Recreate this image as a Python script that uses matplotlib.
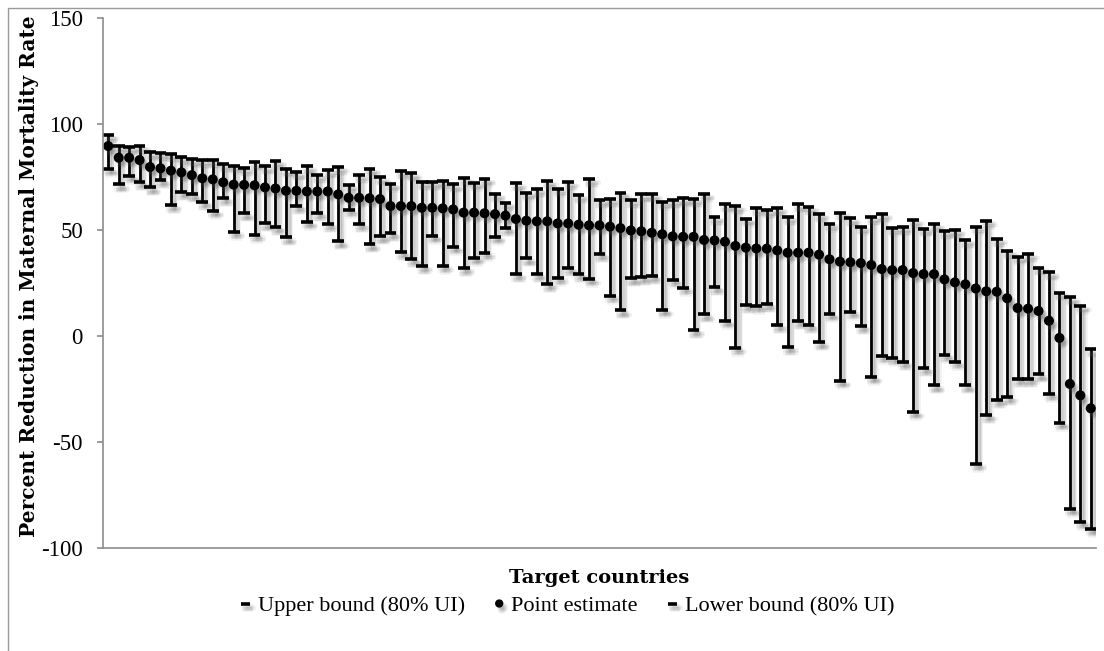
import numpy as np
import matplotlib
matplotlib.use("Agg")
import matplotlib.pyplot as plt
import matplotlib.patheffects as pe
from matplotlib.patches import Rectangle

# percent reduction per country, sorted by point estimate
point = [89.6, 84.1, 84.1, 83.0, 79.7, 79.1, 78.0, 77.2, 75.9, 74.4,
         73.9, 72.5, 71.4, 71.3, 71.1, 70.1, 69.6, 68.5, 68.5, 68.2,
         68.2, 68.2, 66.8, 65.2, 65.2, 65.0, 64.6, 61.3, 61.3, 61.3,
         60.5, 60.5, 60.2, 59.7, 58.2, 58.2, 57.9, 57.5, 56.8, 55.2,
         54.4, 54.1, 54.1, 53.1, 53.1, 52.5, 52.2, 52.2, 51.6, 50.9,
         49.8, 49.4, 48.7, 48.0, 47.0, 46.8, 46.8, 45.3, 45.1, 44.5,
         42.5, 41.7, 41.3, 41.2, 40.4, 39.3, 39.3, 39.3, 38.4, 36.2,
         35.1, 34.8, 34.4, 33.5, 31.6, 31.1, 31.1, 29.7, 29.2, 29.2,
         26.7, 25.3, 24.4, 22.4, 21.1, 20.9, 17.8, 13.2, 12.9, 11.8,
         7.2, -0.9, -22.6, -28.0, -34.1]

upper = [94.8, 89.6, 89.0, 89.6, 86.6, 86.2, 85.7, 84.3, 83.3, 82.9,
         82.9, 81.1, 80.3, 79.1, 81.9, 80.0, 82.5, 78.6, 77.2, 80.0,
         75.9, 78.1, 79.6, 71.2, 75.9, 78.8, 74.8, 71.8, 77.8, 76.7,
         72.5, 72.5, 73.1, 71.5, 74.5, 72.2, 74.1, 67.0, 62.7, 72.0,
         67.5, 69.2, 73.1, 69.5, 72.5, 66.4, 73.9, 64.0, 64.6, 67.6,
         64.0, 66.8, 66.8, 63.4, 64.0, 64.9, 64.6, 67.1, 56.0, 62.1,
         61.3, 55.3, 60.4, 59.4, 60.4, 56.1, 62.1, 60.7, 57.4, 53.0,
         58.2, 55.5, 51.6, 56.1, 57.4, 51.1, 51.3, 54.7, 50.7, 52.7,
         49.5, 50.0, 45.3, 51.6, 54.4, 45.6, 40.1, 37.3, 38.7, 32.3,
         30.0, 20.5, 18.2, 14.2, -6.3]

lower = [78.9, 71.5, 75.5, 72.5, 70.1, 73.6, 61.8, 67.8, 66.8, 63.2,
         59.0, 65.1, 49.2, 57.8, 47.8, 53.1, 51.4, 46.5, 61.3, 53.8,
         58.0, 52.8, 44.6, 59.6, 52.8, 43.2, 47.0, 48.6, 39.6, 36.2,
         33.0, 47.3, 33.2, 42.1, 32.1, 36.9, 39.3, 46.8, 50.9, 29.1,
         36.6, 29.1, 24.5, 27.5, 32.1, 29.1, 27.0, 38.7, 19.0, 12.1,
         27.2, 27.7, 28.2, 12.3, 26.6, 22.8, 2.7, 10.2, 23.1, 7.2,
         -5.5, 14.6, 14.3, 15.1, 5.2, -5.2, 7.1, 5.2, -3.0, 10.5,
         -21.1, 11.5, 4.6, -19.3, -9.3, -10.2, -12.4, -35.8, -15.1, -23.3,
         -8.8, -12.1, -23.3, -60.2, -37.4, -30.2, -28.9, -20.4, -20.4, -18.1,
         -27.2, -41.0, -81.5, -87.6, -91.0]

yticks = [-100, -50, 0, 50, 100, 150]

serif = ["Liberation Serif", "DejaVu Serif"]
plt.rcParams["font.family"] = serif
plt.rcParams["axes.unicode_minus"] = False
bold_font = ["DejaVu Serif"]


def soft_shadow(kind="line"):
    # a few offset copies with low alpha to get a blurred drop shadow
    effects = []
    for dx, dy in [(2, -3), (3, -4), (1, -2), (3, -2), (2, -5), (4, -3), (1, -4)]:
        if kind == "line":
            effects.append(pe.SimpleLineShadow(offset=(dx, dy), shadow_color="#555555", alpha=0.08))
        else:
            effects.append(pe.SimplePatchShadow(offset=(dx, dy), shadow_rgbFace="#555555", alpha=0.08))
    effects.append(pe.Normal())
    return effects


x = np.arange(1, len(point) + 1)

fig = plt.figure(figsize=(11.04, 6.51), dpi=100)
ax = fig.add_axes([103 / 1104, 1 - 548 / 651, (1096 - 103) / 1104, (548 - 18) / 651])

# outer chart frame
fig.patches.append(Rectangle((8 / 1104, -0.1), 1.2, 1.1 - 8 / 651, transform=fig.transFigure,
                             fill=False, edgecolor="#9a9a9a", linewidth=1.0))

bars = ax.vlines(x, lower, upper, color="black", linewidth=2.0)
bars.set_path_effects(soft_shadow("line"))

hi, = ax.plot(x, upper, linestyle="none", marker="_", markersize=8.5, markeredgewidth=2.6,
              color="black", label="Upper bound (80% UI)")
dots, = ax.plot(x, point, linestyle="none", marker="o", markersize=6.2,
                color="black", label="Point estimate")
lo, = ax.plot(x, lower, linestyle="none", marker="_", markersize=8.5, markeredgewidth=2.6,
              color="black", label="Lower bound (80% UI)")
for ln in (hi, lo):
    ln.set_path_effects(soft_shadow("line"))
dots.set_path_effects(soft_shadow("patch"))

ax.set_xlim(0.5, len(point) + 0.5)
ax.set_ylim(-100, 150)
ax.set_yticks(yticks)
ax.set_xticks([])
for s in ("top", "right"):
    ax.spines[s].set_visible(False)
for s in ("left", "bottom"):
    ax.spines[s].set_color("#8c8c8c")
    ax.spines[s].set_linewidth(1.2)
ax.tick_params(axis="y", direction="out", length=4.5, width=1.2, color="#8c8c8c",
               labelsize=16.5, pad=10)

ax.set_ylabel("Percent Reduction in Maternal Mortality Rate", fontsize=14.5,
              fontweight="bold", family=bold_font)
ax.yaxis.set_label_coords(-0.064, 0.513)

fig.text(599 / 1104, 1 - 578 / 651, "Target countries", ha="center", va="center",
         fontsize=14, fontweight="bold", family=bold_font)

leg = fig.legend(handles=[hi, dots, lo], loc="center", bbox_to_anchor=(567 / 1104, 1 - 606 / 651),
                 ncol=3, frameon=False, fontsize=16, handlelength=0.5, handletextpad=0.3,
                 columnspacing=1.3, markerscale=0.8)

fig.savefig("out.png", dpi=100)
